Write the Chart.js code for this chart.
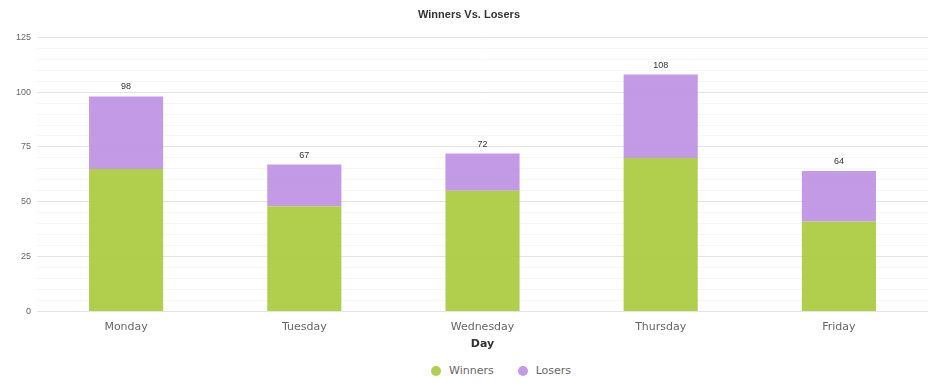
<!DOCTYPE html>
<html>
<head>
<meta charset="utf-8">
<script src="https://cdn.jsdelivr.net/npm/chart.js@4/dist/chart.umd.min.js"></script>
<style>
    html, body { margin: 0; padding: 0; background: #fff; }
    #wrap { position: relative; width: 930px; height: 392px; }
    #chartBox { width: 930px; height: 360px; }
    #legend {
        position: absolute; left: 431px; top: 364px;
        display: flex; align-items: center; gap: 24px;
        font: 11px "DejaVu Sans", sans-serif; color: #666;
    }
    #legend span { display: flex; align-items: center; }
    #legend i { width: 10px; height: 10px; border-radius: 50%; margin-right: 8px; display: inline-block; }
</style>
</head>
<body>
<div id="wrap">
    <div id="chartBox"><canvas id="chartWinLose"></canvas></div>
    <div id="legend"></div>
</div>
<script>
const days = ['Monday', 'Tuesday', 'Wednesday', 'Thursday', 'Friday'];
const winners = [65, 48, 55, 70, 41];
const losers = [33, 19, 17, 38, 23];
const yTicks = [0, 25, 50, 75, 100, 125];

const palette = {
    green: 'rgba(168, 202, 58, 0.9)',
    purple: 'rgba(189, 143, 226, 0.9)',
    text: '#666',
    dark: '#333',
    major: '#e4e4e4',
    minor: '#f6f6f6',
};

// totals written above each stacked bar
const totalsPlugin = {
    id: 'totals',
    afterDatasetsDraw(chart) {
        const ctx = chart.ctx;
        const top = chart.getDatasetMeta(chart.data.datasets.length - 1);
        ctx.save();
        ctx.font = '9px "Liberation Sans", Arial, sans-serif';
        ctx.fillStyle = palette.dark;
        ctx.textAlign = 'center';
        ctx.textBaseline = 'bottom';
        top.data.forEach((bar, i) => {
            ctx.fillText(String(winners[i] + losers[i]), bar.x, bar.y - 5);
        });
        ctx.restore();
    },
};

const chart = new Chart(document.getElementById('chartWinLose'), {
    type: 'bar',
    data: {
        labels: days,
        datasets: [
            { label: 'Winners', data: winners, backgroundColor: palette.green },
            { label: 'Losers', data: losers, backgroundColor: palette.purple },
        ],
    },
    options: {
        responsive: true,
        maintainAspectRatio: false,
        animation: false,
        datasets: { bar: { categoryPercentage: 0.8, barPercentage: 0.52 } },
        layout: { padding: { left: 10, right: 2, top: 0, bottom: 5 } },
        plugins: {
            title: {
                display: true,
                text: 'Winners Vs. Losers',
                color: palette.dark,
                font: { family: '"Liberation Sans", Arial, sans-serif', size: 11, weight: 'bold' },
                padding: { top: 8, bottom: 16 },
            },
            legend: { display: false },
            tooltip: { enabled: false },
        },
        scales: {
            x: {
                stacked: true,
                grid: { display: false },
                border: { display: false },
                ticks: { color: palette.text, font: { family: '"DejaVu Sans", sans-serif', size: 11 }, padding: 1 },
                title: {
                    display: true,
                    text: 'Day',
                    color: palette.dark,
                    font: { family: '"DejaVu Sans", sans-serif', size: 11, weight: 'bold' },
                    padding: { top: 3, bottom: 4 },
                },
            },
            y: {
                stacked: true,
                min: 0,
                max: 125,
                border: { display: false },
                grid: {
                    color: c => (yTicks.includes(c.tick.value) ? palette.major : palette.minor),
                    drawTicks: false,
                },
                ticks: {
                    stepSize: 5,
                    autoSkip: false,
                    padding: 6,
                    color: palette.text,
                    font: { family: '"Liberation Sans", Arial, sans-serif', size: 9 },
                    callback: v => (yTicks.includes(v) ? v : ''),
                },
            },
        },
    },
    plugins: [totalsPlugin],
});

// html legend built from the datasets
document.getElementById('legend').innerHTML = chart.data.datasets
    .map(ds => `<span><i style="background:${ds.backgroundColor}"></i>${ds.label}</span>`)
    .join('');
</script>
</body>
</html>
